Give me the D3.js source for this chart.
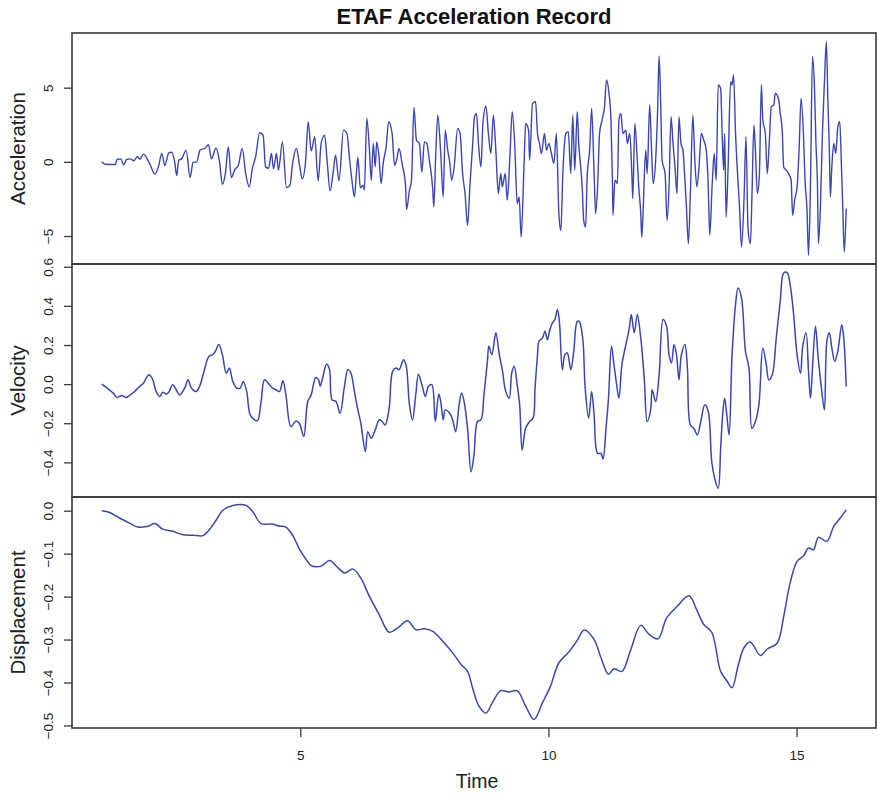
<!DOCTYPE html>
<html>
<head>
<meta charset="utf-8">
<script src="https://cdn.jsdelivr.net/npm/d3@7"></script>
<style>
  html, body { margin: 0; padding: 0; background: #fff; }
  svg { display: block; font-family: "Liberation Sans", Arial, Helvetica, sans-serif; }
</style>
</head>
<body>
<svg id="chart" width="878" height="794"></svg>
<script>
// ETAF record: ground acceleration, velocity and displacement against time (s)
const accTime = [1.00,1.07,1.27,1.31,1.38,1.44,1.50,1.58,1.64,1.72,1.77,1.84,1.90,1.97,2.07,2.14,2.21,2.27,2.35,2.41,2.47,2.51,2.55,2.61,2.70,2.78,2.84,2.91,2.98,3.08,3.15,3.21,3.30,3.37,3.43,3.49,3.55,3.61,3.68,3.75,3.83,3.90,3.97,4.04,4.10,4.18,4.25,4.30,4.36,4.42,4.46,4.52,4.56,4.64,4.72,4.79,4.85,4.92,4.99,5.04,5.10,5.16,5.22,5.29,5.36,5.42,5.49,5.54,5.60,5.66,5.71,5.78,5.87,5.94,5.99,
  6.04,6.09,6.13,6.16,6.21,6.26,6.29,6.34,6.39,6.43,6.47,6.51,6.54,6.58,6.63,6.67,6.73,6.78,6.85,6.90,6.94,6.99,7.05,7.12,7.14,7.20,7.24,7.29,7.34,7.40,7.45,7.50,7.55,7.60,7.67,7.69,7.73,7.77,7.83,7.88,7.92,7.97,8.01,8.05,8.10,8.17,8.22,8.27,8.32,8.37,8.42,8.47,8.51,8.55,8.59,8.64,8.68,8.74,8.79,8.84,8.89,8.94,8.99,9.04,9.07,9.13,9.17,9.22,9.27,9.32,9.37,9.41,9.45,9.51,9.54,9.60,9.62,9.68,9.74,9.78,9.82,9.86,9.92,9.96,10.01,10.06,10.11,10.16,10.21,10.25,10.29,10.35,10.40,10.45,10.49,10.53,10.58,10.61,10.65,10.68,10.71,10.75,10.78,10.83,10.87,10.92,10.95,10.99,11.03,11.08,11.13,
  11.17,11.22,11.26,11.29,11.30,11.34,11.39,11.42,11.46,11.50,11.56,11.59,11.64,11.68,11.70,11.74,11.79,11.82,11.86,11.88,11.90,11.96,11.99,12.04,12.08,12.11,12.16,12.20,12.23,12.26,12.29,12.35,12.39,12.43,12.47,12.51,12.55,12.59,12.63,12.67,12.71,12.75,12.78,12.82,12.86,12.91,12.95,12.99,13.03,13.08,13.13,13.18,13.22,13.25,13.30,13.34,13.38,13.42,13.47,13.50,13.53,13.55,13.58,13.62,13.67,13.70,13.73,13.77,13.81,13.85,13.89,13.94,13.98,14.02,14.07,14.10,14.14,14.17,14.21,14.25,14.29,14.32,14.37,14.41,14.45,14.49,14.54,14.57,14.64,14.67,14.71,14.74,14.79,14.84,14.89,14.92,14.96,15.01,15.05,15.09,15.14,15.17,15.21,15.24,15.28,15.32,15.36,15.39,15.42,15.44,15.48,15.52,15.56,15.60,15.63,15.66,15.68,15.71,15.75,15.79,15.83,15.87,15.90,15.93,15.96,16.00];
const accValue = [0.00,-0.16,-0.18,0.16,0.20,-0.20,0.16,0.20,0.07,0.34,0.18,0.52,0.29,-0.16,-0.83,-0.34,0.56,-0.25,0.61,0.65,-0.02,-0.92,0.11,0.20,0.79,-1.06,-0.02,-0.02,0.79,0.92,1.15,0.20,0.92,0.07,-1.51,-0.79,1.01,-1.06,-0.52,-0.25,0.90,-0.79,-1.69,-0.34,0.34,1.96,1.82,-0.34,-0.43,0.56,-0.47,0.56,-0.56,1.35,-1.73,-1.60,0.00,0.90,-0.34,-1.15,-0.23,2.70,0.74,1.69,-1.28,1.24,1.80,0.11,-1.96,-0.79,0.45,-1.28,2.14,1.91,0.29,
  -1.24,-2.36,-0.79,0.29,-1.76,-1.58,-1.91,2.93,1.01,-1.24,1.24,-0.34,1.35,0.56,-1.46,-0.11,1.01,2.70,1.91,-0.23,0.11,0.90,-0.11,-1.58,-3.22,-1.91,-1.24,3.67,1.46,1.24,-0.68,1.35,1.24,0.11,-1.91,-3.04,0.56,3.15,0.56,-2.36,2.14,0.79,0.00,-1.24,-0.34,2.25,1.91,-0.79,-2.14,-4.28,-1.46,1.01,3.04,3.27,1.24,-0.34,2.59,3.76,1.91,0.56,3.15,0.79,-2.14,-0.79,-1.69,-0.79,-2.59,0.11,3.38,1.24,-2.82,-2.36,-5.07,0.00,2.59,2.14,0.11,3.94,4.05,1.91,1.24,0.56,1.91,0.79,1.24,0.56,-0.11,1.91,-3.49,-4.62,-0.79,1.91,2.03,-0.79,3.15,-0.56,3.38,1.24,-0.34,-1.69,-3.94,-4.39,-1.01,0.79,3.60,-0.79,-3.49,-1.69,1.91,2.82,3.72,
  5.52,4.62,2.82,-1.46,-3.60,-1.24,-1.46,2.82,3.27,1.91,2.14,1.24,1.91,-0.79,-2.48,2.59,0.11,-1.69,-3.49,-5.07,-3.94,0.79,-0.79,3.83,0.56,-1.46,0.11,3.49,7.14,4.17,0.11,-0.79,-3.94,-1.69,3.04,1.24,-0.34,-2.14,3.04,1.24,0.79,-1.24,-3.04,-5.52,-2.14,3.15,0.11,-1.69,-0.56,1.91,1.46,0.79,-1.69,-4.95,-1.46,0.56,-1.24,5.18,4.95,1.91,-0.56,1.91,-3.72,-0.34,5.41,5.18,5.86,1.91,-0.79,-3.04,-5.74,-2.59,1.69,-4.39,-5.52,-2.36,2.48,0.79,-2.14,-0.90,5.18,2.82,1.91,-0.79,1.35,3.72,3.83,4.62,4.17,3.27,2.14,-0.34,-0.56,-0.79,-1.24,-3.60,-2.59,-1.69,0.79,4.28,1.69,-1.24,-3.27,-6.31,-1.46,7.09,5.07,1.24,-1.46,-5.52,-3.04,1.91,5.29,8.11,4.17,0.79,-2.36,-0.34,1.24,0.56,2.36,2.70,0.11,-3.04,-6.08,-3.15];

const velTime = [1.00,1.09,1.23,1.31,1.40,1.48,1.56,1.66,1.76,1.84,1.95,2.02,2.10,2.17,2.23,2.30,2.35,2.43,2.50,2.57,2.67,2.74,2.80,2.90,2.97,3.05,3.16,3.24,3.29,3.36,3.43,3.51,3.57,3.64,3.72,3.79,3.85,3.92,3.99,4.08,4.14,4.21,4.28,4.38,4.44,4.51,4.58,4.65,4.71,4.81,4.91,4.98,
  5.07,5.15,5.22,5.31,5.37,5.40,5.45,5.53,5.59,5.64,5.72,5.80,5.89,5.96,6.02,6.09,6.16,6.22,6.31,6.36,6.43,6.51,6.59,6.65,6.71,6.79,6.86,6.93,6.99,7.08,7.13,7.20,7.26,7.33,7.38,7.45,7.52,7.58,7.65,7.72,7.79,7.83,7.88,7.92,8.01,8.07,8.13,8.20,8.25,8.30,8.37,8.44,8.50,8.57,8.64,8.70,8.77,8.80,8.86,8.94,9.01,9.07,9.14,9.21,9.26,9.31,9.37,9.42,9.47,9.54,9.62,9.69,9.73,9.78,9.81,9.88,9.93,9.98,10.02,10.08,10.13,10.18,10.22,10.28,10.33,10.38,10.45,10.51,10.58,
  10.62,10.69,10.74,10.81,10.87,10.92,10.99,11.06,11.10,11.16,11.21,11.27,11.32,11.37,11.42,11.48,11.56,11.63,11.67,11.73,11.79,11.86,11.93,11.99,12.06,12.09,12.16,12.23,12.31,12.38,12.43,12.48,12.53,12.58,12.63,12.68,12.75,12.80,12.86,12.93,13.00,13.07,13.15,13.22,13.29,13.35,13.42,13.47,13.51,13.55,13.60,13.64,13.70,13.77,13.82,13.89,13.97,14.04,14.10,14.17,14.24,14.32,14.39,14.44,14.51,14.59,14.67,14.74,14.81,14.87,14.94,15.01,15.08,15.12,15.19,15.24,15.28,15.32,15.38,15.43,15.50,15.56,15.61,15.66,15.71,15.77,15.83,15.91,15.95,16.00];
const velValue = [0.000,-0.017,-0.046,-0.068,-0.058,-0.068,-0.058,-0.038,-0.012,0.005,0.048,0.027,-0.041,-0.063,-0.041,-0.051,-0.041,-0.003,-0.029,-0.055,-0.020,0.022,-0.017,-0.038,-0.012,0.056,0.142,0.150,0.168,0.202,0.150,0.056,0.082,0.014,-0.020,-0.020,0.014,-0.038,-0.157,-0.183,-0.186,-0.089,0.022,-0.003,-0.020,-0.029,-0.038,0.017,-0.055,-0.217,-0.188,-0.200,
  -0.268,-0.089,-0.055,0.034,0.022,-0.012,0.031,0.103,0.074,-0.080,-0.089,-0.149,-0.012,0.074,0.056,-0.038,-0.132,-0.200,-0.345,-0.243,-0.277,-0.234,-0.183,-0.191,-0.209,-0.123,0.065,0.082,0.074,0.125,0.099,-0.106,-0.183,-0.046,0.051,-0.003,-0.063,-0.012,-0.003,-0.191,-0.051,-0.089,-0.183,-0.132,-0.149,-0.183,-0.243,-0.106,-0.046,-0.089,-0.226,-0.448,-0.362,-0.191,-0.183,-0.055,0.116,0.193,0.150,0.262,0.150,0.074,-0.038,-0.072,0.056,0.091,-0.003,-0.106,-0.337,-0.226,-0.191,-0.174,-0.020,0.150,0.219,0.236,0.270,0.227,0.270,0.313,0.330,0.381,0.321,0.074,0.150,0.159,0.074,0.168,0.321,
  0.321,0.236,-0.020,-0.174,-0.038,-0.157,-0.354,-0.354,-0.383,-0.226,-0.072,0.193,0.099,0.005,-0.072,0.099,0.202,0.287,0.356,0.262,0.356,0.236,0.031,-0.191,-0.132,-0.029,-0.089,0.048,0.330,0.296,0.150,0.108,0.202,0.150,0.022,0.150,0.202,0.082,-0.209,-0.226,-0.260,-0.191,-0.106,-0.140,-0.397,-0.482,-0.533,-0.328,-0.157,-0.072,-0.174,-0.260,0.150,0.407,0.492,0.441,0.168,0.082,-0.226,-0.191,-0.106,0.185,0.099,0.022,0.048,0.236,0.424,0.568,0.570,0.509,0.356,0.150,0.056,0.185,0.262,0.065,-0.072,0.082,0.296,0.150,-0.020,-0.132,0.219,0.262,0.185,0.116,0.168,0.304,0.236,-0.012];

const dispTime = [1.00,1.16,1.36,1.56,1.73,1.93,2.07,2.23,2.43,2.64,2.84,3.04,3.17,3.31,3.44,3.64,3.91,4.04,4.21,4.44,4.58,4.71,4.85,4.98,5.12,5.22,5.42,5.59,5.76,5.89,6.06,6.22,6.39,6.59,6.79,6.96,7.16,7.33,7.50,7.67,7.87,8.07,8.24,8.37,8.47,8.60,8.74,8.87,9.04,9.21,9.37,9.54,9.71,9.88,10.04,10.21,10.41,10.58,10.72,10.92,11.06,11.21,11.32,11.48,11.66,11.86,12.03,12.21,12.38,12.60,12.83,13.00,13.13,13.29,13.47,13.60,13.70,13.82,13.94,14.07,14.27,14.41,14.61,14.74,14.87,15.01,15.14,15.24,15.34,15.44,15.61,15.75,15.88,16.00];
const dispValue = [0.000,-0.004,-0.017,-0.029,-0.038,-0.036,-0.030,-0.043,-0.048,-0.056,-0.057,-0.058,-0.044,-0.021,0.001,0.012,0.012,-0.002,-0.030,-0.031,-0.036,-0.038,-0.058,-0.089,-0.114,-0.128,-0.129,-0.116,-0.133,-0.145,-0.136,-0.157,-0.199,-0.242,-0.283,-0.273,-0.256,-0.277,-0.275,-0.281,-0.304,-0.331,-0.358,-0.374,-0.412,-0.455,-0.471,-0.447,-0.419,-0.422,-0.419,-0.455,-0.486,-0.447,-0.409,-0.354,-0.329,-0.302,-0.278,-0.300,-0.343,-0.381,-0.368,-0.374,-0.323,-0.267,-0.288,-0.298,-0.250,-0.222,-0.198,-0.234,-0.265,-0.283,-0.374,-0.397,-0.412,-0.362,-0.319,-0.306,-0.337,-0.322,-0.308,-0.246,-0.168,-0.118,-0.105,-0.087,-0.091,-0.062,-0.071,-0.036,-0.017,0.002];

const timeTicks = [5, 10, 15];
const accTicks = [-5, 0, 5];
const velTicks = [-0.4, -0.2, 0.0, 0.2, 0.4, 0.6];
const dispTicks = [-0.5, -0.4, -0.3, -0.2, -0.1, 0.0];

const titleText = "ETAF Acceleration Record";
const xLabel = "Time";

const svg = d3.select("#chart");
const left = 72, right = 876;
const lineColor = "#3a46b4";
const frameColor = "#3a3a3a";

// Range padded by 4% on each side, as in base graphics
function padded(values) {
  const [lo, hi] = d3.extent(values);
  const p = (hi - lo) * 0.04;
  return [lo - p, hi + p];
}

const x = d3.scaleLinear().domain(padded(accTime)).range([left, right]);

const panels = [
  { name: "Acceleration", t: accTime, v: accValue, ticks: accTicks, fmt: d3.format("d"), top: 33, bottom: 264, curve: d3.curveMonotoneX, width: 1.4 },
  { name: "Velocity", t: velTime, v: velValue, ticks: velTicks, fmt: d3.format(".1f"), top: 264, bottom: 497, curve: d3.curveCatmullRom.alpha(0.5), width: 1.5 },
  { name: "Displacement", t: dispTime, v: dispValue, ticks: dispTicks, fmt: d3.format(".1f"), top: 497, bottom: 728, curve: d3.curveCatmullRom.alpha(0.5), width: 1.5 }
];

panels.forEach(p => {
  const y = d3.scaleLinear().domain(padded(p.v)).range([p.bottom, p.top]);
  const g = svg.append("g");

  const clipId = "clip-" + p.name;
  svg.append("clipPath").attr("id", clipId)
    .append("rect").attr("x", left).attr("y", p.top).attr("width", right - left).attr("height", p.bottom - p.top);

  const pts = p.t.map((t, i) => [t, p.v[i]]);
  g.append("path")
    .datum(pts)
    .attr("clip-path", `url(#${clipId})`)
    .attr("fill", "none")
    .attr("stroke", lineColor)
    .attr("stroke-width", p.width)
    .attr("stroke-linejoin", "round")
    .attr("d", d3.line().curve(p.curve).x(d => x(d[0])).y(d => y(d[1])));

  // left axis with vertical tick labels
  const ax = g.append("g")
    .attr("transform", `translate(${left},0)`)
    .call(d3.axisLeft(y).tickValues(p.ticks).tickFormat(p.fmt).tickSize(8).tickSizeOuter(0));
  ax.select(".domain").remove();
  ax.selectAll(".tick line").attr("stroke", frameColor).attr("stroke-width", 1.3);
  ax.selectAll(".tick text")
    .attr("fill", "#222")
    .attr("font-size", 13.5)
    .attr("font-family", "'Liberation Sans', Arial, sans-serif")
    .attr("text-anchor", "middle")
    .attr("dy", null)
    .attr("x", 0)
    .attr("y", -19)
    .attr("transform", "rotate(-90)");

  // axis title
  g.append("text")
    .attr("transform", `translate(25,${(p.top + p.bottom) / 2}) rotate(-90)`)
    .attr("text-anchor", "middle")
    .attr("font-size", 20.5)
    .attr("fill", "#222")
    .text(p.name);

  // frame
  g.append("rect")
    .attr("x", left).attr("y", p.top)
    .attr("width", right - left).attr("height", p.bottom - p.top)
    .attr("fill", "none")
    .attr("stroke", frameColor)
    .attr("stroke-width", 1.6);
});

// time axis beneath the bottom panel
const xa = svg.append("g")
  .attr("transform", "translate(0,728)")
  .call(d3.axisBottom(x).tickValues(timeTicks).tickFormat(d3.format("d")).tickSize(9).tickSizeOuter(0));
xa.select(".domain").remove();
xa.selectAll(".tick line").attr("stroke", frameColor).attr("stroke-width", 1.3);
xa.selectAll(".tick text")
  .attr("fill", "#222")
  .attr("font-size", 13.5)
  .attr("font-family", "'Liberation Sans', Arial, sans-serif")
  .attr("y", 22)
  .attr("dy", "0.71em");

svg.append("text")
  .attr("x", (left + right) / 2 + 3)
  .attr("y", 788)
  .attr("text-anchor", "middle")
  .attr("font-size", 19.5)
  .attr("fill", "#222")
  .text(xLabel);

svg.append("text")
  .attr("x", (left + right) / 2)
  .attr("y", 24)
  .attr("text-anchor", "middle")
  .attr("font-size", 22)
  .attr("font-weight", "bold")
  .attr("fill", "#111")
  .text(titleText);
</script>
</body>
</html>
